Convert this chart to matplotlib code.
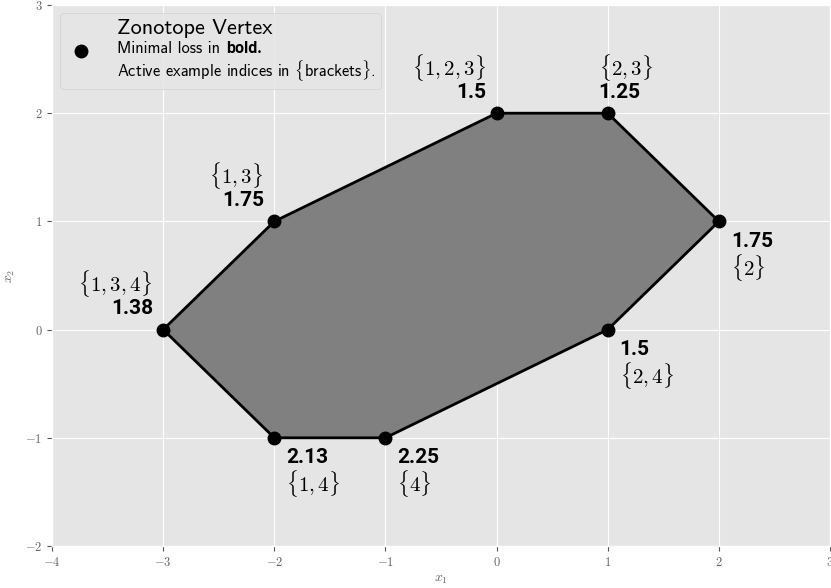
import matplotlib
matplotlib.use("Agg")
import matplotlib.pyplot as plt
from matplotlib.lines import Line2D
from matplotlib.offsetbox import (AnchoredOffsetbox, DrawingArea, HPacker,
                                  TextArea, VPacker)

# vertices of the zonotope, in drawing order
x1 = [-3, -2, 0, 1, 2, 1, -1, -2]
x2 = [0, 1, 2, 2, 1, 0, -1, -1]
losses = ["1.38", "1.75", "1.5", "1.25", "1.75", "1.5", "2.25", "2.13"]
active = ["1,3,4", "1,3", "1,2,3", "2,3", "2", "2,4", "4", "1,4"]
# where each label sits: above-left, above-right or below-right
placement = ["ul", "ul", "ul", "ur", "lr", "lr", "lr", "lr"]

xticks = [-4, -3, -2, -1, 0, 1, 2, 3]
yticks = [-2, -1, 0, 1, 2, 3]

plt.style.use("ggplot")
plt.rcParams["mathtext.fontset"] = "cm"

fig = plt.figure(figsize=(8.31, 5.88), dpi=100)
ax = fig.add_axes([0.0626, 0.0714, 0.9362, 0.9201])

ax.fill(x1, x2, facecolor="#808080", edgecolor="black", linewidth=2, zorder=2)
ax.plot(x1, x2, "o", color="black", markersize=9, zorder=3)

bold = dict(family="Roboto", weight="bold", fontsize=15, color="black")
idx = dict(fontsize=15, color="black")
for a, b, loss, act, pl in zip(x1, x2, losses, active, placement):
    label = "$\\{" + act + "\\}$"
    if pl == "ul":
        ax.annotate(loss, (a, b), xytext=(-10, 21), textcoords="offset pixels",
                    ha="right", va="center", **bold)
        ax.annotate(label, (a, b), xytext=(-11, 46), textcoords="offset pixels",
                    ha="right", va="center", **idx)
    elif pl == "ur":
        ax.annotate(loss, (a, b), xytext=(-9, 21), textcoords="offset pixels",
                    ha="left", va="center", **bold)
        ax.annotate(label, (a, b), xytext=(-9, 46), textcoords="offset pixels",
                    ha="left", va="center", **idx)
    else:
        ax.annotate(loss, (a, b), xytext=(12, -20), textcoords="offset pixels",
                    ha="left", va="center", **bold)
        ax.annotate(label, (a, b), xytext=(12, -46), textcoords="offset pixels",
                    ha="left", va="center", **idx)

ax.set_xlim(-4, 3)
ax.set_ylim(-2, 3)
ax.set_xticks(xticks)
ax.set_yticks(yticks)
ax.set_xticklabels(["$%d$" % t for t in xticks], fontsize=9, color="#666666")
ax.set_yticklabels(["$%d$" % t for t in yticks], fontsize=9, color="#666666")
ax.set_xlabel("$x_1$", fontsize=10, color="#666666", labelpad=2)
ax.set_ylabel("$x_2$", fontsize=10, color="#666666", labelpad=6)

# legend built by hand so the first line can be bigger
da = DrawingArea(22, 20)
da.add_artist(Line2D([11], [10], marker="o", color="black", markersize=9))
t1 = TextArea("Zonotope Vertex",
              textprops=dict(family="cmss10", fontsize=16, color="black"))
t2 = HPacker(children=[
    TextArea("Minimal loss in ", textprops=dict(family="cmss10", fontsize=11.8)),
    TextArea("bold.", textprops=dict(family="Roboto", weight="bold", fontsize=11.5)),
], pad=0, sep=0)
t3 = TextArea("Active example indices in $\\{$brackets$\\}$.",
              textprops=dict(family="cmss10", fontsize=11.8))
col = VPacker(children=[t1, t2, t3], pad=0, sep=2, align="left")
box = HPacker(children=[da, col], pad=0, sep=15, align="center")
leg = AnchoredOffsetbox(loc="upper left", child=box, pad=0.4, borderpad=0.6,
                        frameon=True)
leg.patch.set_boxstyle("round,pad=0,rounding_size=0.3")
leg.patch.set_facecolor("#E5E5E5")
leg.patch.set_alpha(0.8)
leg.patch.set_edgecolor("#CCCCCC")
ax.add_artist(leg)

fig.savefig("out.png", dpi=100)
